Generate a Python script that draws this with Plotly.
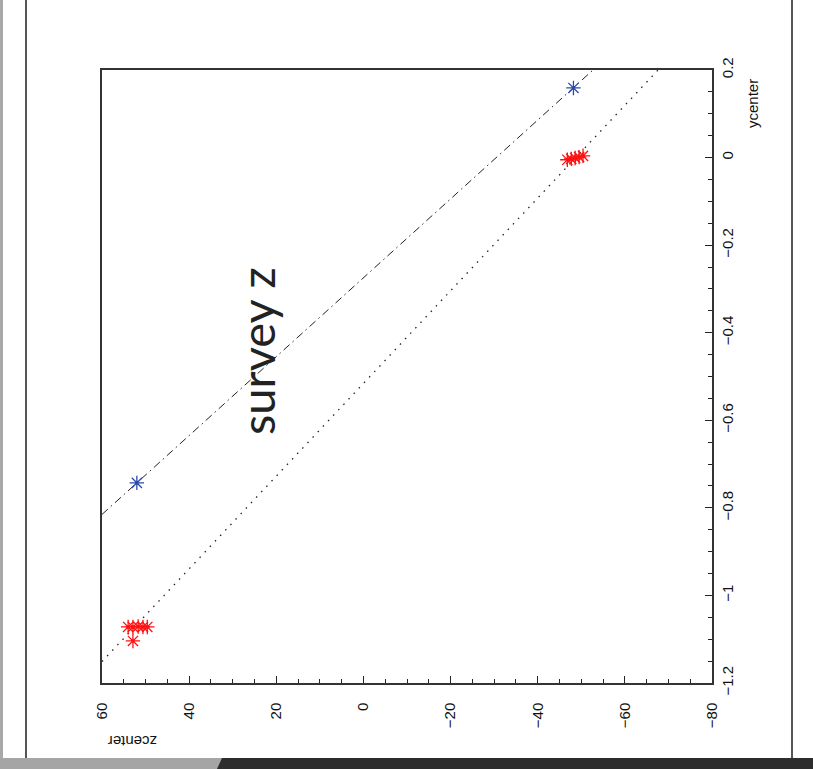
import plotly.graph_objects as go

# ---- data (zcenter, ycenter) ----
blue_z = [52.0, -48.2]
blue_y = [-0.743, 0.159]

red_z = [54.0, 52.9, 51.7, 50.6, 49.6, 52.9,
         -46.8, -47.7, -48.6, -49.5, -50.4]
red_y = [-1.072, -1.072, -1.071, -1.072, -1.072, -1.104,
         -0.005, -0.003, -0.001, 0.001, 0.004]

dashdot_z = [60, -80]
dashdot_y = [-0.815, 0.446]

dotted_z = [60, -80]
dotted_y = [-1.151, 0.331]

z_ticks = [60, 40, 20, 0, -20, -40, -60, -80]
y_ticks = [0.2, 0, -0.2, -0.4, -0.6, -0.8, -1, -1.2]
y_ticklabels = ["0.2", "0", "\u22120.2", "\u22120.4", "\u22120.6", "\u22120.8", "\u22121", "\u22121.2"]
z_ticklabels = ["60", "40", "20", "0", "\u221220", "\u221240", "\u221260", "\u221280"]

# ---- layout geometry (pixels) ----
W, H = 813, 769
L, R, T, B = 102, 712, 70, 683


def px(x):
    return (x - L) / (R - L)


def py(y):
    return (B - y) / (B - T)


fig = go.Figure()

fig.add_trace(go.Scatter(x=dashdot_z, y=dashdot_y, mode="lines",
                         line=dict(color="#222", width=1, dash="8px,4px,1.5px,4px"),
                         hoverinfo="skip", showlegend=False))
fig.add_trace(go.Scatter(x=dotted_z, y=dotted_y, mode="lines",
                         line=dict(color="#222", width=1.3, dash="1.5px,6px"),
                         hoverinfo="skip", showlegend=False))
fig.add_trace(go.Scatter(x=red_z, y=red_y, mode="markers",
                         marker=dict(symbol="asterisk-open", size=12, color="#ff1010",
                                     line=dict(color="#ff1010", width=1.3)),
                         showlegend=False))
fig.add_trace(go.Scatter(x=blue_z, y=blue_y, mode="markers",
                         marker=dict(symbol="asterisk-open", size=12, color="#2a4aa8",
                                     line=dict(color="#2a4aa8", width=1.3)),
                         showlegend=False))

tickfont = dict(family="Liberation Sans, Arial, sans-serif", size=15, color="#111")

fig.update_xaxes(range=[60, -80], tickvals=z_ticks, ticktext=z_ticklabels,
                 tickangle=-90, ticks="inside", ticklen=7, tickwidth=1, tickcolor="#222",
                 minor=dict(dtick=5, ticks="inside", ticklen=4, tickcolor="#222", tickwidth=1),
                 showline=True, linecolor="#333", linewidth=1.5, mirror=True,
                 showgrid=False, zeroline=False, tickfont=tickfont,
                 ticklabelstandoff=12)
fig.update_yaxes(range=[-1.2, 0.2], side="right", tickvals=y_ticks, ticktext=y_ticklabels,
                 tickangle=-90, ticks="inside", ticklen=7, tickwidth=1, tickcolor="#222",
                 minor=dict(dtick=0.05, ticks="inside", ticklen=4, tickcolor="#222", tickwidth=1),
                 showline=True, linecolor="#333", linewidth=1.5, mirror=True,
                 showgrid=False, zeroline=False, tickfont=tickfont,
                 ticklabelstandoff=1)

shapes = [
    dict(type="rect", xref="paper", yref="paper", x0=px(0), x1=px(3), y0=py(759), y1=py(0),
         fillcolor="#a8a8a8", line=dict(width=0), layer="above"),
    dict(type="line", xref="paper", yref="paper", x0=px(26), x1=px(26), y0=py(759), y1=py(0),
         line=dict(color="#555", width=2), layer="above"),
    dict(type="line", xref="paper", yref="paper", x0=px(792), x1=px(792), y0=py(759), y1=py(0),
         line=dict(color="#555", width=2), layer="above"),
    dict(type="rect", xref="paper", yref="paper", x0=px(0), x1=px(225), y0=py(769), y1=py(758),
         fillcolor="#a5a5a5", line=dict(width=0), layer="above"),
    dict(type="path", xref="paper", yref="paper",
         path=f"M {px(217)} {py(769)} L {px(222)} {py(758)} L {px(813)} {py(758)} L {px(813)} {py(769)} Z",
         fillcolor="#2d2d2d", line=dict(width=0), layer="above"),
]

annotations = [
    dict(text="survey z", xref="paper", yref="paper", x=px(257), y=py(351),
         showarrow=False, textangle=-90, xanchor="center", yanchor="middle",
         font=dict(family="Lato, Open Sans, sans-serif", size=47, color="#222")),
    dict(text="ycenter", xref="paper", yref="paper", x=px(752), y=py(104),
         showarrow=False, textangle=-90, xanchor="center", yanchor="middle",
         font=dict(family="Liberation Sans, Arial, sans-serif", size=15, color="#111")),
    dict(text="zcenter", xref="paper", yref="paper", x=px(133), y=py(742),
         showarrow=False, textangle=180, xanchor="center", yanchor="middle",
         font=dict(family="Liberation Sans, Arial, sans-serif", size=15, color="#111")),
]

fig.update_layout(width=W, height=H, margin=dict(l=L, r=W - R, t=T, b=H - B, pad=0),
                  paper_bgcolor="white", plot_bgcolor="white",
                  shapes=shapes, annotations=annotations, showlegend=False)

fig.write_html("out.html")
